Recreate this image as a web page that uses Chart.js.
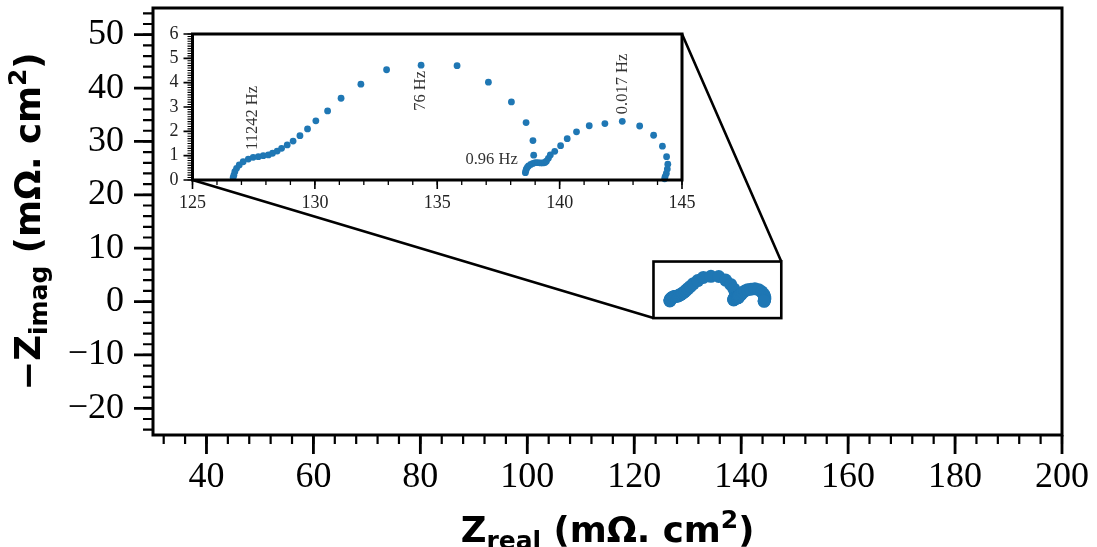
<!DOCTYPE html>
<html>
<head>
<meta charset="utf-8">
<script src="https://cdn.jsdelivr.net/npm/chart.js"></script>
<style>
  html, body { margin: 0; padding: 0; background: #fff; }
  #wrap { position: relative; width: 1097px; height: 547px; }
  #main { position: absolute; left: 0; top: 0; }
  #inset { position: absolute; left: 140px; top: 22px; }
</style>
</head>
<body>
<div id="wrap">
  <canvas id="main" width="1097" height="547"></canvas>
  <canvas id="inset" width="560" height="202"></canvas>
</div>
<script>
// Datos (Nyquist): Z real y -Z imag en mΩ·cm²
const zReal = [
  126.66, 126.69, 126.73, 126.80, 126.91, 127.07, 127.28, 127.48, 127.69, 127.89,
  128.10, 128.27, 128.46, 128.64, 128.87, 129.11, 129.39, 129.70, 130.04, 130.52,
  131.07, 131.88, 132.93, 134.34, 135.81, 137.09, 138.03, 138.63, 138.91, 138.94,
  138.60, 138.62, 138.64, 138.68, 138.73, 138.82, 138.91, 139.01, 139.11, 139.22,
  139.32, 139.40, 139.46, 139.54, 139.62, 139.80, 140.04, 140.31, 140.69, 141.21,
  141.85, 142.56, 143.27, 143.84, 144.20, 144.37, 144.42, 144.40, 144.36, 144.31,
  144.29
];
const zImagNeg = [
  0.10, 0.20, 0.34, 0.48, 0.62, 0.75, 0.86, 0.93, 0.96, 1.00,
  1.03, 1.10, 1.19, 1.30, 1.44, 1.60, 1.82, 2.10, 2.43, 2.84,
  3.36, 3.94, 4.53, 4.72, 4.70, 4.02, 3.21, 2.36, 1.62, 1.02,
  0.30, 0.38, 0.45, 0.52, 0.58, 0.64, 0.68, 0.71, 0.71, 0.70,
  0.70, 0.72, 0.77, 0.89, 1.03, 1.18, 1.41, 1.70, 1.98, 2.23,
  2.32, 2.41, 2.22, 1.84, 1.39, 0.96, 0.65, 0.45, 0.27, 0.14,
  0.05
];

// Etiquetas de frecuencia del recuadro
const freqLabels = ['11242 Hz', '76 Hz', '0.96 Hz', '0.017 Hz'];
const freqX = [127.46, 134.33, 137.22, 142.56];
const freqY = [2.55, 3.66, 0.82, 3.95];
const freqVertical = [true, true, false, true];

// Ticks
const mainXTicks = [40, 60, 80, 100, 120, 140, 160, 180, 200];
const mainYTicks = [-20, -10, 0, 10, 20, 30, 40, 50];
const insetXTicks = [125, 130, 135, 140, 145];
const insetYTicks = [0, 1, 2, 3, 4, 5, 6];

// Zona ampliada (rectángulo en el gráfico principal)
const zoomBox = { x0: 123.6, x1: 147.5, y0: -3.1, y1: 7.5 };

const BLUE = '#1f77b4';
const SERIF = '"Liberation Serif", "DejaVu Serif", serif';
const SANS = '"DejaVu Sans", sans-serif';

const points = zReal.map((x, i) => ({ x: x, y: zImagNeg[i] }));

function range(from, to, step) {
  const out = [];
  for (let v = from; v <= to + 1e-9; v += step) out.push(Math.round(v * 1000) / 1000);
  return out;
}

// Quitamos el relleno automático que Chart.js reserva para las etiquetas extremas
function noEdgePadding(s) {
  s.paddingTop = 0;
  s.paddingBottom = 0;
  s.paddingLeft = 0;
  s.paddingRight = 0;
}

// Dibuja marcas de eje hacia fuera
function drawTicks(ctx, scale, values, len, width, area) {
  ctx.save();
  ctx.strokeStyle = '#000';
  ctx.lineWidth = width;
  ctx.beginPath();
  values.forEach(v => {
    if (scale.isHorizontal()) {
      const px = scale.getPixelForValue(v);
      ctx.moveTo(px, area.bottom);
      ctx.lineTo(px, area.bottom + len);
    } else {
      const py = scale.getPixelForValue(v);
      ctx.moveTo(area.left, py);
      ctx.lineTo(area.left - len, py);
    }
  });
  ctx.stroke();
  ctx.restore();
}

// Texto con subíndice / superíndice
function drawRich(ctx, parts, x, y, rotate) {
  ctx.save();
  ctx.translate(x, y);
  if (rotate) ctx.rotate(-Math.PI / 2);
  let total = 0;
  parts.forEach(p => {
    ctx.font = 'bold ' + p.size + 'px ' + SANS;
    p.w = ctx.measureText(p.t).width;
    total += p.w;
  });
  let cx = -total / 2;
  ctx.fillStyle = '#000';
  ctx.textBaseline = 'alphabetic';
  ctx.textAlign = 'left';
  parts.forEach(p => {
    ctx.font = 'bold ' + p.size + 'px ' + SANS;
    ctx.fillText(p.t, cx, p.dy || 0);
    cx += p.w;
  });
  ctx.restore();
}

function minusSign(v) {
  return String(v).replace('-', '\u2212');
}

// ---------- Recuadro (inset) ----------
const insetPlugin = {
  id: 'insetDeco',
  afterDraw(chart) {
    const ctx = chart.ctx;
    const a = chart.chartArea;
    const sx = chart.scales.x, sy = chart.scales.y;
    drawTicks(ctx, sx, range(125, 145, 1), 5, 1.3, a);
    drawTicks(ctx, sx, insetXTicks, 9, 1.6, a);
    drawTicks(ctx, sy, range(0, 6, 0.1), 5, 1.1, a);
    drawTicks(ctx, sy, insetYTicks, 9, 1.6, a);

    ctx.save();
    ctx.strokeStyle = '#000';
    ctx.lineWidth = 3;
    ctx.strokeRect(a.left, a.top, a.right - a.left, a.bottom - a.top);

    ctx.fillStyle = '#333';
    ctx.font = '16.5px ' + SERIF;
    ctx.textAlign = 'center';
    ctx.textBaseline = 'middle';
    freqLabels.forEach((txt, i) => {
      const px = sx.getPixelForValue(freqX[i]);
      const py = sy.getPixelForValue(freqY[i]);
      ctx.save();
      ctx.translate(px, py);
      if (freqVertical[i]) ctx.rotate(-Math.PI / 2);
      ctx.fillText(txt, 0, 0);
      ctx.restore();
    });
    ctx.restore();
  }
};

const insetChart = new Chart(document.getElementById('inset'), {
  type: 'scatter',
  data: {
    datasets: [{
      data: points,
      backgroundColor: BLUE,
      borderWidth: 0,
      pointRadius: 3.4,
      clip: false
    }]
  },
  options: {
    responsive: false,
    animation: false,
    devicePixelRatio: 1,
    layout: { padding: { top: 12, right: 18, left: 0, bottom: 0 } },
    plugins: { legend: { display: false }, tooltip: { enabled: false } },
    scales: {
      x: {
        type: 'linear', min: 125, max: 145,
        afterBuildTicks: s => { s.ticks = insetXTicks.map(v => ({ value: v })); },
        afterFit: s => { s.height = 44; noEdgePadding(s); },
        grid: { display: false, drawTicks: false },
        border: { display: false },
        ticks: { color: '#222', font: { family: SERIF, size: 18 }, padding: 12, maxRotation: 0, autoSkip: false }
      },
      y: {
        type: 'linear', min: 0, max: 6,
        afterBuildTicks: s => { s.ticks = insetYTicks.map(v => ({ value: v })); },
        afterFit: s => { s.width = 52.5; noEdgePadding(s); },
        grid: { display: false, drawTicks: false },
        border: { display: false },
        ticks: { color: '#222', font: { family: SERIF, size: 18 }, padding: 14, autoSkip: false }
      }
    }
  },
  plugins: [insetPlugin]
});

// ---------- Gráfico principal ----------
const mainPlugin = {
  id: 'mainDeco',
  afterDraw(chart) {
    const ctx = chart.ctx;
    const a = chart.chartArea;
    const sx = chart.scales.x, sy = chart.scales.y;

    drawTicks(ctx, sx, range(32, 200, 4), 9, 2.2, a);
    drawTicks(ctx, sx, mainXTicks, 19, 2.8, a);
    drawTicks(ctx, sy, range(-24, 54, 2), 10, 2.2, a);
    drawTicks(ctx, sy, mainYTicks, 19, 2.8, a);

    ctx.save();
    ctx.strokeStyle = '#000';
    ctx.lineWidth = 3;
    ctx.strokeRect(a.left, a.top, a.right - a.left, a.bottom - a.top);

    // rectángulo de zoom y conectores
    const rx0 = sx.getPixelForValue(zoomBox.x0), rx1 = sx.getPixelForValue(zoomBox.x1);
    const ry0 = sy.getPixelForValue(zoomBox.y0), ry1 = sy.getPixelForValue(zoomBox.y1);
    ctx.lineWidth = 2.6;
    ctx.strokeRect(rx0, ry1, rx1 - rx0, ry0 - ry1);

    const ia = insetChart.chartArea;
    const cv = insetChart.canvas;
    const offX = cv.offsetLeft, offY = cv.offsetTop;
    ctx.beginPath();
    ctx.moveTo(ia.left + offX, ia.bottom + offY);
    ctx.lineTo(rx0, ry0);
    ctx.moveTo(ia.right + offX, ia.top + offY);
    ctx.lineTo(rx1, ry1);
    ctx.stroke();
    ctx.restore();

    // títulos de ejes
    drawRich(ctx, [
      { t: 'Z', size: 35.5 },
      { t: 'real', size: 25, dy: 7 },
      { t: ' (mΩ. cm', size: 35.5 },
      { t: '2', size: 25, dy: -14 },
      { t: ')', size: 35.5 }
    ], (a.left + a.right) / 2, 542, false);

    drawRich(ctx, [
      { t: '\u2212Z', size: 35.5 },
      { t: 'imag', size: 25, dy: 7 },
      { t: ' (mΩ. cm', size: 35.5 },
      { t: '2', size: 25, dy: -14 },
      { t: ')', size: 35.5 }
    ], 40, (a.top + a.bottom) / 2, true);
  }
};

new Chart(document.getElementById('main'), {
  type: 'scatter',
  data: {
    datasets: [{
      data: points,
      backgroundColor: BLUE,
      borderWidth: 0,
      pointRadius: 6.5
    }]
  },
  options: {
    responsive: false,
    animation: false,
    devicePixelRatio: 1,
    layout: { padding: { top: 8, right: 35, left: 0, bottom: 0 } },
    plugins: { legend: { display: false }, tooltip: { enabled: false } },
    scales: {
      x: {
        type: 'linear', min: 30, max: 200,
        afterBuildTicks: s => { s.ticks = mainXTicks.map(v => ({ value: v })); },
        afterFit: s => { s.height = 112; noEdgePadding(s); },
        grid: { display: false, drawTicks: false },
        border: { display: false },
        ticks: { color: '#000', font: { family: SERIF, size: 36 }, padding: 21, maxRotation: 0, autoSkip: false }
      },
      y: {
        type: 'linear', min: -25, max: 55,
        afterBuildTicks: s => { s.ticks = mainYTicks.map(v => ({ value: v })); },
        afterFit: s => { s.width = 153; noEdgePadding(s); },
        grid: { display: false, drawTicks: false },
        border: { display: false },
        ticks: {
          color: '#000', font: { family: SERIF, size: 36 }, padding: 29, autoSkip: false,
          callback: v => minusSign(v)
        }
      }
    }
  },
  plugins: [mainPlugin]
});
</script>
</body>
</html>
